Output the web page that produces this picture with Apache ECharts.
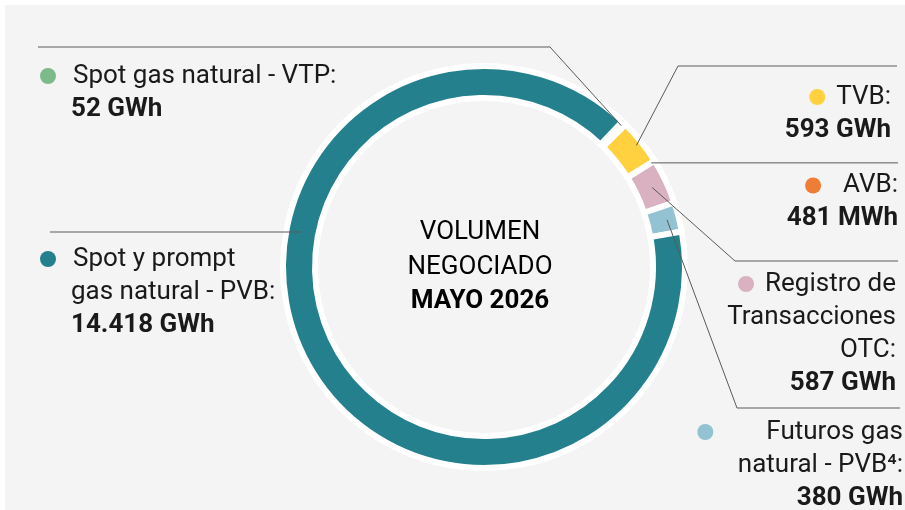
<!DOCTYPE html>
<html>
<head>
<meta charset="utf-8">
<script src="https://cdn.jsdelivr.net/npm/echarts@6/dist/echarts.min.js"></script>
<style>
  html, body { margin: 0; padding: 0; background: #ffffff; }
  #chart { position: absolute; left: 5px; top: 5px; width: 900px; height: 505px; }
</style>
</head>
<body>
<div id="chart"></div>
<script>
// ---- data ----
const categories = [
  ['Spot gas natural - VTP:'],
  ['TVB:'],
  ['AVB:'],
  ['Registro de', 'Transacciones', 'OTC:'],
  ['Futuros gas', 'natural - PVB\u2074:'],
  ['Spot y prompt', 'gas natural - PVB:']
];
const valuesGWh = [52, 593, 0.481, 587, 380, 14418];
const valueLabels = ['52 GWh', '593 GWh', '481 MWh', '587 GWh', '380 GWh', '14.418 GWh'];
const centerLines = ['VOLUMEN', 'NEGOCIADO', 'MAYO 2026'];

// ---- styles / layout ----
const colors = ['#7cba89', '#ffd13f', '#ee7d36', '#d9b1c0', '#93c2d2', '#23808c'];
const CX = 479, CY = 262, R_OUT = 201, R_IN = 169;
// label anchor: [x, yTop, align, dotGap]
const labelPos = [
  [35, 54.5, 'left', 17],
  [886, 75.5, 'right', 11],
  [893, 164, 'right', 22],
  [891, 262.5, 'right', 11],
  [898, 410.5, 'right', 53],
  [35, 237.5, 'left', 17]
];
// leader line: start radius + remaining points (null y = keep start y)
const lineStartR = [197, 195, 197, 186, 189, 186];
const lineRest = [
  [[545, 42], [33, 42]],
  [[673, 61], [892, 61]],
  [[893, null]],
  [[730, 256], [893, 256]],
  [[732, 403], [895, 403]],
  [[45, null]]
];
const PVB_LINE_Y = 227;
const FS = 26, LH = 33;

const chart = echarts.init(document.getElementById('chart'), null, { renderer: 'canvas' });

function labelText(i) {
  const lines = categories[i];
  const left = labelPos[i][2] === 'left';
  const out = [];
  lines.forEach(function (l, k) {
    if (k === 0) out.push('{dot' + i + '|}{g' + i + '|}{t|' + l + '}');
    else out.push((left ? '{ind|}' : '') + '{t|' + l + '}');
  });
  out.push((left ? '{ind|}' : '') + '{b|' + valueLabels[i] + '}');
  return out.join('\n');
}

const rich = {
  t: { fontSize: FS, lineHeight: LH, color: '#1a1a1a', fontFamily: 'Roboto' },
  b: { fontSize: FS, lineHeight: LH, color: '#1a1a1a', fontFamily: 'Roboto', fontWeight: 'bold' },
  ind: { width: 31, height: 10 }
};
colors.forEach(function (c, i) {
  rich['dot' + i] = { width: 16, height: 16, borderRadius: 8, backgroundColor: c };
  rich['g' + i] = { width: labelPos[i][3], height: 10 };
});

const ringData = valuesGWh.map(function (v, i) {
  return { value: v, name: categories[i].join(' '), itemStyle: { color: colors[i] } };
});
const labelData = valuesGWh.map(function (v, i) {
  return { value: v, name: categories[i].join(' '), label: { formatter: labelText(i) } };
});

const common = {
  type: 'pie',
  center: [CX, CY],
  radius: [R_IN, R_OUT],
  startAngle: 46.4,
  clockwise: true,
  avoidLabelOverlap: false,
  silent: true
};

const option = {
  backgroundColor: '#f4f4f4',
  animation: false,
  graphic: [{
    type: 'text',
    x: 475, y: 262,
    style: {
      text: '{n|' + centerLines[0] + '}\n{n|' + centerLines[1] + '}\n{m|' + centerLines[2] + '}',
      align: 'center', verticalAlign: 'middle',
      rich: {
        n: { fontSize: FS, lineHeight: 34.5, color: '#2b2b2b', fontFamily: 'Roboto', align: 'center' },
        m: { fontSize: FS, lineHeight: 34.5, color: '#2b2b2b', fontFamily: 'Roboto', fontWeight: 'bold', align: 'center' }
      }
    }
  }],
  series: [
    Object.assign({}, common, {
      z: 2,
      itemStyle: { borderColor: '#ffffff', borderWidth: 6 },
      label: { show: false },
      labelLine: { show: false },
      data: ringData
    }),
    Object.assign({}, common, {
      z: 5,
      itemStyle: { color: 'rgba(0,0,0,0)', borderWidth: 0 },
      label: { show: true, position: 'outside', rich: rich, fontFamily: 'Roboto', fontSize: FS },
      labelLine: { show: true, length: 10, length2: 10, lineStyle: { color: '#5a5a5a', width: 1 } },
      labelLayout: function (p) {
        const i = p.dataIndex;
        const lp = labelPos[i];
        let start;
        if (i === 5) {
          const r = lineStartR[5];
          const dy = PVB_LINE_Y - CY;
          start = [CX - Math.sqrt(r * r - dy * dy), PVB_LINE_Y];
        } else {
          const p0 = p.labelLinePoints[0];
          const dx = p0[0] - CX, dy = p0[1] - CY;
          const d = Math.sqrt(dx * dx + dy * dy);
          start = [CX + dx / d * lineStartR[i], CY + dy / d * lineStartR[i]];
        }
        const pts = [start];
        lineRest[i].forEach(function (q) {
          pts.push([q[0], q[1] === null ? start[1] : q[1]]);
        });
        if (pts.length < 3) pts.push(pts[pts.length - 1].slice());
        return { x: lp[0], y: lp[1], align: lp[2], verticalAlign: 'top', labelLinePoints: pts };
      },
      data: labelData
    })
  ]
};
chart.setOption(option);
</script>
</body>
</html>
